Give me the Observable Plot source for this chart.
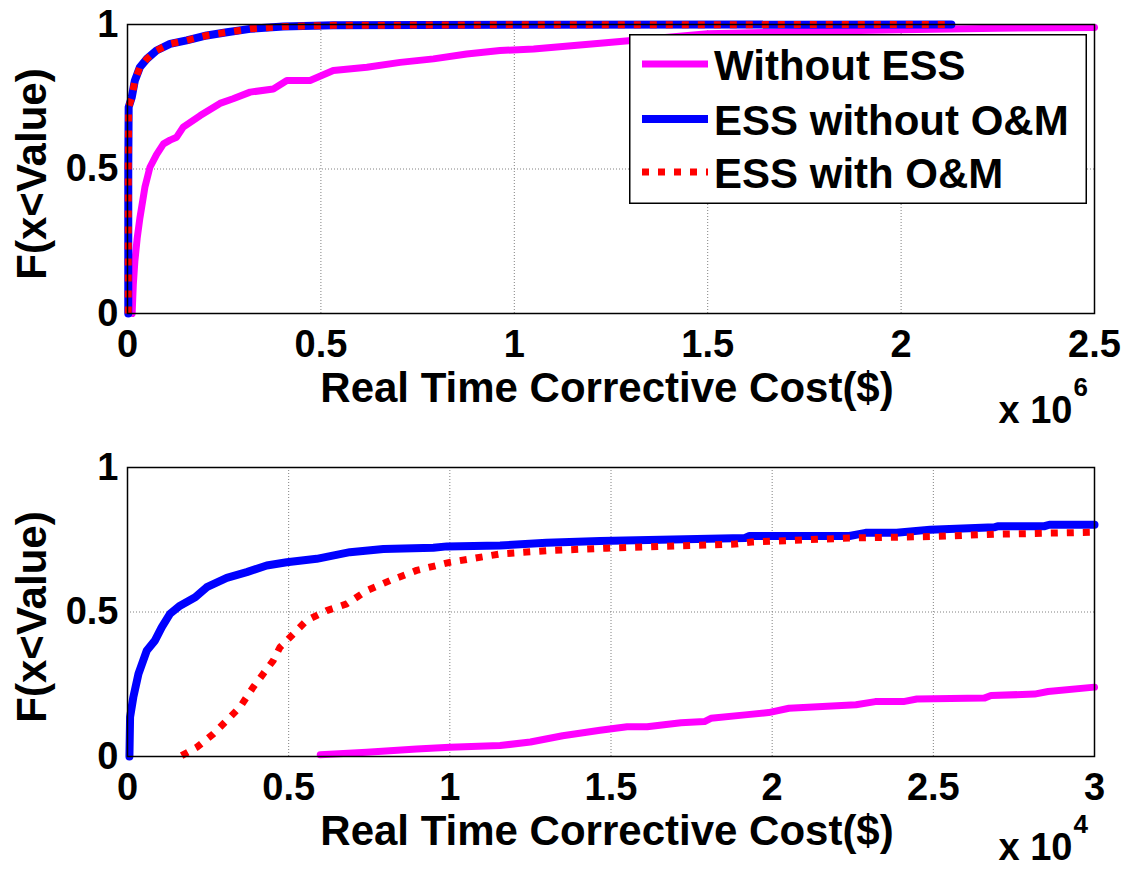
<!DOCTYPE html>
<html>
<head>
<meta charset="utf-8">
<script src="https://cdn.jsdelivr.net/npm/d3@7"></script>
<script src="https://cdn.jsdelivr.net/npm/@observablehq/plot@0.6"></script>
<style>
  body { margin: 0; background: #fff; }
  #wrap { position: relative; width: 1128px; height: 869px; overflow: hidden; background: #fff; }
  .panel { position: absolute; left: 0; }
  #legend { position: absolute; left: 629px; top: 34px; }
</style>
</head>
<body>
<div id="wrap">
  <div id="top" class="panel" style="top:0px"></div>
  <div id="bottom" class="panel" style="top:443px"></div>
  <div id="legend"></div>
</div>
<script>
// ---------- DATA (x in axis units: top ×10^6 $, bottom ×10^4 $) ----------
const seriesNames = ["Without ESS", "ESS without O&M", "ESS with O&M"];
const yTicks = [0, 0.5, 1];
const topXTicks = [0, 0.5, 1, 1.5, 2, 2.5];
const bottomXTicks = [0, 0.5, 1, 1.5, 2, 2.5, 3];
const topExponent = "6";
const bottomExponent = "4";
const xLabel = "Real Time Corrective Cost($)";
const yLabel = "F(x<Value)";

// Top panel
const topWithoutX = [0.012,0.015,0.019,0.025,0.032,0.045,0.058,0.075,0.093,0.11,0.127,0.144,0.188,0.239,0.273,0.317,0.377,0.412,0.472,0.532,0.619,0.705,0.791,0.877,0.963,1.05,1.222,1.5,1.75,2.0,2.25,2.5];
const topWithoutF = [0,0.1,0.18,0.26,0.33,0.437,0.506,0.55,0.587,0.6,0.61,0.645,0.685,0.727,0.743,0.766,0.777,0.806,0.806,0.841,0.852,0.869,0.881,0.898,0.91,0.915,0.935,0.968,0.976,0.982,0.987,0.99];
const topNoOMX = [0.002,0.002,0.003,0.011,0.019,0.032,0.05,0.075,0.11,0.153,0.205,0.257,0.317,0.403,0.532,1.0,2.13];
const topNoOMF = [0,0.5,0.714,0.748,0.806,0.852,0.881,0.91,0.933,0.945,0.962,0.973,0.985,0.993,0.997,0.999,1.0];
const topOMX = [0.002,0.002,0.003,0.011,0.019,0.032,0.05,0.075,0.11,0.153,0.205,0.257,0.317,0.403,0.532,1.0,2.13];
const topOMF = [0,0.5,0.714,0.748,0.806,0.852,0.881,0.91,0.933,0.945,0.962,0.973,0.985,0.993,0.997,0.999,1.0];

// Bottom panel
const botWithoutX = [0.598,0.742,0.897,1.0,1.156,1.25,1.35,1.466,1.55,1.612,1.717,1.79,1.81,1.916,1.989,2.052,2.26,2.32,2.407,2.449,2.658,2.679,2.814,2.856,3.0];
const botWithoutF = [0.006,0.015,0.026,0.032,0.038,0.05,0.072,0.091,0.103,0.103,0.117,0.121,0.132,0.144,0.152,0.167,0.179,0.19,0.19,0.199,0.202,0.211,0.216,0.225,0.24];
const botNoOMX = [0.006,0.008,0.018,0.034,0.06,0.085,0.106,0.132,0.163,0.21,0.246,0.308,0.37,0.432,0.494,0.587,0.69,0.794,0.949,0.991,1.156,1.3,1.466,1.916,1.93,2.24,2.29,2.386,2.49,2.69,2.7,2.845,2.86,3.0];
const botNoOMF = [0,0.136,0.205,0.286,0.367,0.401,0.447,0.494,0.522,0.551,0.586,0.618,0.638,0.661,0.672,0.684,0.707,0.718,0.722,0.727,0.73,0.74,0.746,0.756,0.763,0.763,0.774,0.774,0.785,0.793,0.797,0.797,0.802,0.802];
const botOMX = [0.168,0.215,0.266,0.308,0.349,0.39,0.421,0.452,0.473,0.494,0.525,0.556,0.618,0.68,0.742,0.815,0.897,1.0,1.156,1.3,1.487,1.885,1.937,2.24,2.49,2.69,3.0];
const botOMF = [0.003,0.032,0.078,0.125,0.171,0.24,0.286,0.332,0.378,0.401,0.436,0.471,0.505,0.528,0.574,0.609,0.644,0.672,0.701,0.712,0.721,0.735,0.742,0.756,0.761,0.769,0.776];

// ---------- STYLE ----------
const FONT = "'Liberation Sans', Arial, Helvetica, sans-serif";
const colors = {"Without ESS": "#ff00ff", "ESS without O&M": "#0000ff", "ESS with O&M": "#ff0000"};
const fmt = d => String(d);

function toRows(xs, fs) { return xs.map((x, i) => ({x, F: fs[i]})); }

function panel({xDomain, xTicks, series, exponent, height, marginBottom, expDy}) {
  const [without, noOM, om] = series;
  const gridStyle = {stroke: "#808080", strokeOpacity: 1, strokeWidth: 1, strokeDasharray: "1,2"};
  return Plot.plot({
    width: 1128,
    height,
    marginLeft: 127,
    marginRight: 34,
    marginTop: 24,
    marginBottom,
    style: {fontFamily: FONT, background: "transparent", overflow: "visible", color: "black"},
    x: {domain: xDomain, ticks: xTicks},
    y: {domain: [0, 1], ticks: yTicks},
    marks: [
      Plot.gridX(xTicks, gridStyle),
      Plot.gridY(yTicks, gridStyle),
      Plot.axisX(xTicks, {anchor: "bottom", tickSize: 0, tickPadding: 17, fontSize: 38, fontWeight: "bold", tickFormat: fmt, label: null}),
      Plot.axisY(yTicks, {anchor: "left", tickSize: 0, tickPadding: 9, fontSize: 38, fontWeight: "bold", tickFormat: fmt, label: null}),
      Plot.line(without, {x: "x", y: "F", stroke: colors["Without ESS"], strokeWidth: 7, strokeLinejoin: "round"}),
      Plot.line(noOM, {x: "x", y: "F", stroke: colors["ESS without O&M"], strokeWidth: 8, strokeLinejoin: "round"}),
      Plot.line(om, {x: "x", y: "F", stroke: colors["ESS with O&M"], strokeWidth: 7, strokeDasharray: "7,9", strokeLinecap: "butt"}),
      Plot.frame({stroke: "black", strokeWidth: 1.5}),
      Plot.text([xLabel], {frameAnchor: "bottom", lineAnchor: "bottom", textAnchor: "middle", dx: -4, dy: 88, fontSize: 42, fontWeight: "bold", fill: "black"}),
      Plot.text([yLabel], {frameAnchor: "left", textAnchor: "middle", lineAnchor: "middle", rotate: -90, dx: -95, dy: 5, fontSize: 42, fontWeight: "bold", fill: "black"}),
      Plot.text(["x 10"], {frameAnchor: "bottom-right", lineAnchor: "bottom", textAnchor: "end", dx: -22, dy: expDy, fontSize: 38, fontWeight: "bold", fill: "black"}),
      Plot.text([exponent], {frameAnchor: "bottom-right", lineAnchor: "bottom", textAnchor: "start", dx: -21, dy: expDy - 27, fontSize: 26, fontWeight: "bold", fill: "black"})
    ]
  });
}

document.getElementById("top").append(panel({
  xDomain: [0, 2.5], xTicks: topXTicks, exponent: topExponent, height: 443, marginBottom: 130, expDy: 109,
  series: [toRows(topWithoutX, topWithoutF), toRows(topNoOMX, topNoOMF), toRows(topOMX, topOMF)]
}));
document.getElementById("bottom").append(panel({
  xDomain: [0, 3], xTicks: bottomXTicks, exponent: bottomExponent, height: 426, marginBottom: 113, expDy: 103,
  series: [toRows(botWithoutX, botWithoutF), toRows(botNoOMX, botNoOMF), toRows(botOMX, botOMF)]
}));

// ---------- LEGEND ----------
(function () {
  const W = 458, H = 170;
  const svg = d3.create("svg").attr("width", W).attr("height", H).style("display", "block");
  svg.append("rect").attr("x", 0.75).attr("y", 0.75).attr("width", W - 1.5).attr("height", H - 1.5)
    .attr("fill", "white").attr("stroke", "black").attr("stroke-width", 1.5);
  const rowsY = [30, 85, 138];
  const styles = [
    {w: 7, dash: null},
    {w: 8, dash: null},
    {w: 7, dash: "7,9"}
  ];
  seriesNames.forEach((name, i) => {
    const y = rowsY[i];
    const ln = svg.append("line").attr("x1", 13).attr("x2", 79).attr("y1", y).attr("y2", y)
      .attr("stroke", colors[name]).attr("stroke-width", styles[i].w);
    if (styles[i].dash) ln.attr("stroke-dasharray", styles[i].dash);
    svg.append("text").attr("x", 85).attr("y", y + 16)
      .attr("font-family", FONT).attr("font-size", 42).attr("font-weight", "bold")
      .attr("fill", "black").text(name);
  });
  document.getElementById("legend").append(svg.node());
})();
</script>
</body>
</html>
